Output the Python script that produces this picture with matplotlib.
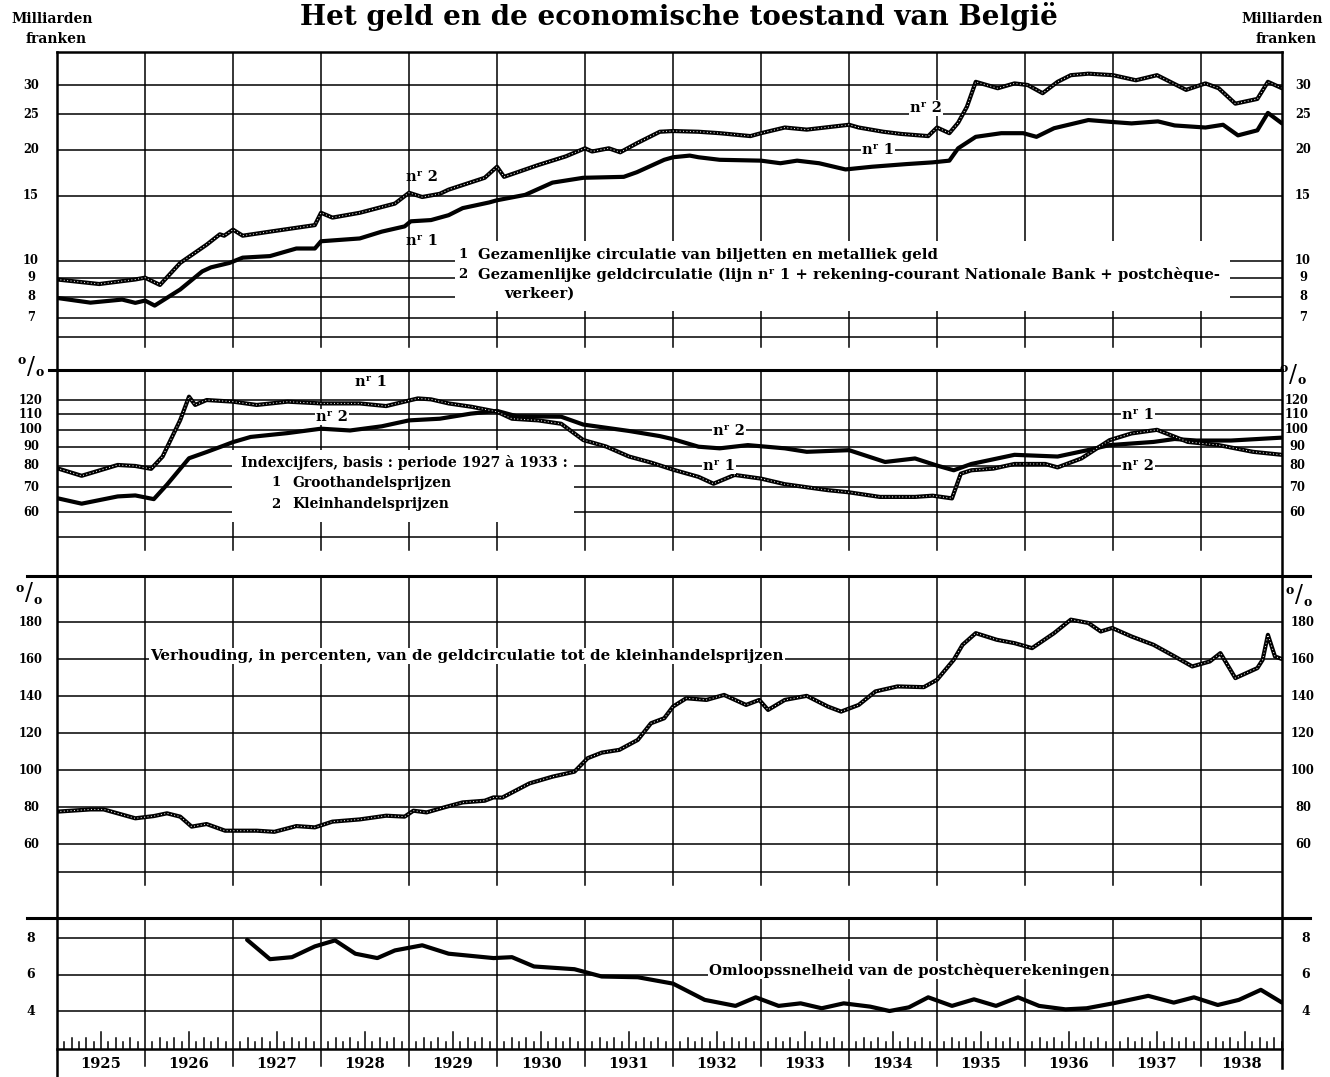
import matplotlib
matplotlib.use('Agg')
import matplotlib.pyplot as plt
from matplotlib.lines import Line2D
from matplotlib.patches import Rectangle
from matplotlib.ticker import NullLocator

# ---------------- data ----------------
money1_x = [1925.0, 1925.38, 1925.74, 1925.89, 1926.0, 1926.11, 1926.4, 1926.65, 1926.75, 1926.96,
            1927.11, 1927.42, 1927.72, 1927.93, 1928.0, 1928.44, 1928.69, 1928.95, 1929.02, 1929.25,
            1929.45, 1929.61, 1929.91, 1930.0, 1930.32, 1930.63, 1930.98, 1931.44, 1931.59, 1931.9,
            1932.0, 1932.19, 1932.29, 1932.53, 1933.0, 1933.22, 1933.41, 1933.66, 1933.96, 1934.26,
            1934.65, 1934.95, 1935.14, 1935.24, 1935.44, 1935.73, 1935.98, 1936.13, 1936.33, 1936.72,
            1937.0, 1937.21, 1937.51, 1937.7, 1938.05, 1938.25, 1938.42, 1938.64, 1938.76, 1938.92]
money1_y = [7.93, 7.7, 7.85, 7.69, 7.8, 7.56, 8.36, 9.36, 9.6, 9.87,
            10.2, 10.3, 10.8, 10.8, 11.3, 11.5, 12.0, 12.4, 12.8, 12.9,
            13.3, 13.9, 14.4, 14.6, 15.1, 16.3, 16.8, 16.9, 17.4, 18.8,
            19.1, 19.3, 19.1, 18.8, 18.7, 18.4, 18.7, 18.4, 17.7, 18.0,
            18.3, 18.5, 18.7, 20.2, 21.7, 22.2, 22.2, 21.7, 22.9, 24.1,
            23.8, 23.6, 23.9, 23.3, 23.0, 23.4, 21.9, 22.6, 25.2, 23.6]

money2_x = [1925.0, 1925.48, 1925.89, 1926.0, 1926.17, 1926.4, 1926.7, 1926.85, 1926.9, 1927.0,
            1927.11, 1927.42, 1927.93, 1928.0, 1928.13, 1928.44, 1928.84, 1929.0, 1929.15, 1929.35,
            1929.45, 1929.86, 1930.0, 1930.08, 1930.47, 1930.78, 1931.0, 1931.08, 1931.27, 1931.4,
            1931.59, 1931.85, 1932.0, 1932.29, 1932.53, 1932.88, 1933.0, 1933.27, 1933.52, 1934.0,
            1934.11, 1934.39, 1934.59, 1934.9, 1935.0, 1935.14, 1935.24, 1935.34, 1935.44, 1935.69,
            1935.88, 1936.03, 1936.2, 1936.37, 1936.52, 1936.72, 1937.0, 1937.26, 1937.5, 1937.83,
            1938.05, 1938.2, 1938.39, 1938.64, 1938.76, 1938.92]
money2_y = [8.9, 8.65, 8.9, 9.0, 8.6, 9.87, 11.06, 11.8, 11.7, 12.15,
            11.7, 12.0, 12.5, 13.5, 13.1, 13.5, 14.3, 15.3, 14.9, 15.2,
            15.6, 16.8, 18.0, 16.9, 18.2, 19.2, 20.2, 19.8, 20.2, 19.7,
            20.85, 22.4, 22.5, 22.4, 22.2, 21.8, 22.2, 23.0, 22.7, 23.4,
            23.0, 22.4, 22.1, 21.8, 23.0, 22.2, 23.7, 26.2, 30.6, 29.4,
            30.3, 30.0, 28.5, 30.6, 31.9, 32.2, 31.9, 30.9, 31.9, 29.1,
            30.3, 29.4, 26.7, 27.5, 30.6, 29.4]

whole_x = [1925.0, 1925.28, 1925.69, 1925.89, 1926.07, 1926.2, 1926.4, 1926.5, 1926.57, 1926.7,
           1927.0, 1927.27, 1927.62, 1928.0, 1928.44, 1928.74, 1929.1, 1929.25, 1929.45, 1929.71,
           1930.0, 1930.17, 1930.47, 1930.73, 1930.98, 1931.24, 1931.5, 1931.75, 1932.0, 1932.29,
           1932.46, 1932.7, 1933.0, 1933.27, 1933.76, 1934.0, 1934.35, 1934.75, 1934.95, 1935.17,
           1935.27, 1935.39, 1935.64, 1935.88, 1936.23, 1936.37, 1936.64, 1936.96, 1937.21, 1937.5,
           1937.85, 1938.2, 1938.59, 1938.92]
whole_y = [78.7, 75.1, 80.3, 79.8, 78.4, 84.6, 106.0, 122.5, 116.4, 120.0,
           118.8, 116.4, 118.8, 117.5, 117.5, 115.6, 121.2, 120.5, 117.5, 115.1,
           111.6, 106.9, 105.8, 103.6, 93.7, 90.0, 84.6, 81.5, 78.0, 74.6,
           71.5, 75.5, 73.8, 71.3, 68.7, 67.8, 65.9, 65.9, 66.4, 65.3,
           76.1, 77.7, 78.5, 80.8, 80.8, 79.1, 83.6, 93.6, 97.6, 99.8,
           92.6, 90.8, 87.1, 85.5]

retail_x = [1925.0, 1925.28, 1925.69, 1925.89, 1926.1, 1926.25, 1926.5, 1926.7, 1926.9, 1927.0,
            1927.2, 1927.62, 1928.0, 1928.33, 1928.69, 1929.0, 1929.35, 1929.7, 1930.0, 1930.22,
            1930.73, 1930.98, 1931.5, 1931.85, 1932.0, 1932.29, 1932.53, 1932.85, 1933.27, 1933.52,
            1934.0, 1934.41, 1934.75, 1935.0, 1935.19, 1935.39, 1935.88, 1936.37, 1936.71, 1936.96,
            1937.46, 1937.7, 1937.95, 1938.34, 1938.92]
retail_y = [65.4, 63.2, 66.1, 66.5, 65.0, 71.1, 83.7, 87.0, 90.6, 92.5,
            95.5, 97.8, 100.5, 99.4, 102.0, 105.8, 106.9, 110.3, 112.2, 108.6,
            108.2, 103.1, 99.1, 96.0, 94.2, 89.9, 89.0, 90.8, 89.0, 87.1,
            88.0, 81.8, 83.6, 80.0, 77.7, 80.8, 85.5, 84.6, 88.0, 90.8,
            92.6, 94.3, 93.4, 93.4, 95.1]

ratio_x = [1925.0, 1925.38, 1925.53, 1925.89, 1926.1, 1926.25, 1926.4, 1926.53, 1926.7, 1926.91,
           1927.27, 1927.47, 1927.72, 1927.93, 1928.13, 1928.44, 1928.74, 1928.95, 1929.05, 1929.2,
           1929.4, 1929.61, 1929.86, 1929.96, 1930.06, 1930.37, 1930.63, 1930.88, 1931.03, 1931.19,
           1931.39, 1931.6, 1931.75, 1931.9, 1932.0, 1932.15, 1932.38, 1932.58, 1932.83, 1932.98,
           1933.08, 1933.27, 1933.52, 1933.76, 1933.91, 1934.11, 1934.3, 1934.55, 1934.85, 1935.0,
           1935.19, 1935.29, 1935.44, 1935.68, 1935.88, 1936.08, 1936.33, 1936.52, 1936.72, 1936.86,
           1936.99, 1937.21, 1937.46, 1937.7, 1937.9, 1938.1, 1938.22, 1938.39, 1938.64, 1938.7,
           1938.76, 1938.84, 1938.92]
ratio_y = [77.5, 78.7, 78.7, 73.9, 75.1, 76.6, 74.8, 69.4, 70.8, 67.2,
           67.2, 66.6, 69.7, 69.0, 72.1, 73.3, 75.3, 74.8, 78.0, 77.1,
           79.8, 82.5, 83.4, 85.2, 85.1, 92.8, 96.4, 99.1, 106.4, 109.4,
           110.9, 116.3, 125.3, 128.0, 134.3, 138.8, 137.9, 140.6, 135.2, 137.9,
           132.5, 137.9, 140.1, 134.3, 131.6, 135.2, 142.5, 145.2, 144.8, 148.8,
           159.6, 167.7, 174.0, 170.4, 168.6, 165.9, 174.0, 181.3, 179.5, 174.9,
           176.8, 172.2, 167.7, 161.4, 156.0, 158.7, 163.2, 149.7, 155.1, 159.6,
           173.1, 161.4, 160.0]

veloc_x = [1927.16, 1927.42, 1927.67, 1927.93, 1928.16, 1928.39, 1928.64, 1928.84, 1929.15, 1929.45,
           1929.96, 1930.17, 1930.42, 1930.88, 1931.19, 1931.6, 1932.0, 1932.36, 1932.71, 1932.94,
           1933.2, 1933.45, 1933.69, 1933.94, 1934.24, 1934.46, 1934.68, 1934.9, 1935.17, 1935.42,
           1935.67, 1935.92, 1936.16, 1936.46, 1936.7, 1937.0, 1937.4, 1937.69, 1937.92, 1938.19,
           1938.43, 1938.68, 1938.92]
veloc_y = [7.9, 6.84, 6.95, 7.54, 7.87, 7.14, 6.9, 7.32, 7.6, 7.14,
           6.9, 6.95, 6.44, 6.29, 5.89, 5.85, 5.5, 4.61, 4.28, 4.75,
           4.28, 4.42, 4.15, 4.42, 4.24, 4.0, 4.2, 4.75, 4.28, 4.64,
           4.28, 4.75, 4.28, 4.09, 4.15, 4.42, 4.83, 4.46, 4.75, 4.33,
           4.61, 5.16, 4.46]

years = list(range(1925, 1939))
year_labels = [str(y) for y in years]
p1_ticks = [30, 25, 20, 15, 10, 9, 8, 7]
p2_ticks = [120, 110, 100, 90, 80, 70, 60]
p3_ticks = [180, 160, 140, 120, 100, 80, 60]
p4_ticks = [8, 6, 4]

# ---------------- layout ----------------
W, H = 1330, 1077
fig = plt.figure(figsize=(W / 100, H / 100), dpi=100)
plt.rcParams['font.family'] = ['DejaVu Serif', 'DejaVu Sans']
X0, X1 = 57, 1282
XMIN, XMAX = 1925.0, 1938.92
GRID_LW = 1.1
DATA_LW = 3.0
TFS = 8.3
NFS = 10.5   # "nr" labels

def fx(x):
    return x / W

def fy(y):
    return 1 - y / H

def panel(top, bottom, ylim, log):
    ax = fig.add_axes([fx(X0), fy(bottom), (X1 - X0) / W, (bottom - top) / H])
    if log:
        ax.set_yscale('log')
    ax.set_xlim(XMIN, XMAX)
    ax.set_ylim(*ylim)
    for s in ax.spines.values():
        s.set_visible(False)
    ax.set_xticks([])
    ax.set_yticks([])
    ax.yaxis.set_minor_locator(NullLocator())
    ax.xaxis.set_minor_locator(NullLocator())
    ax.patch.set_alpha(0)
    ax._px = (top, bottom)
    return ax

def hgrid(ax, vals):
    for v in vals:
        ax.axhline(v, color='black', lw=GRID_LW, zorder=1)

def hline_px(ax, ypx, lw=GRID_LW):
    top, bottom = ax._px
    f = (bottom - ypx) / (bottom - top)
    ax.add_line(Line2D([0, 1], [f, f], transform=ax.transAxes, color='black', lw=lw, zorder=1))

def vgrid(ax, bottom_px, top_px=None, clip=True):
    top, bottom = ax._px
    if top_px is None:
        top_px = top
    ymin = (bottom - bottom_px) / (bottom - top)
    ymax = (bottom - top_px) / (bottom - top)
    for yr in years[1:]:
        ax.axvline(yr, ymin=ymin, ymax=ymax, color='black', lw=GRID_LW, zorder=1, clip_on=clip)

def ylabels(ax, vals, labels=None, left_c=31, right_c=1303, fs=TFS):
    tr = ax.get_yaxis_transform()
    if labels is None:
        labels = [str(v) for v in vals]
    for v, lb in zip(vals, labels):
        for xc in (left_c, right_c):
            ax.text((xc - X0) / (X1 - X0), v, lb, transform=tr, ha='center', va='center',
                    fontsize=fs, fontweight='bold', clip_on=False)

def whiteout(ax, x0, y0, x1, y1):
    ax.add_patch(Rectangle((fx(x0), fy(y1)), (x1 - x0) / W, (y1 - y0) / H,
                           transform=fig.transFigure, facecolor='white', edgecolor='none',
                           zorder=1.5, clip_on=False))

def ftext(x, y, s, fs=9, ha='left', va='center', weight='bold', box=False, **kw):
    kws = dict(fontsize=fs, ha=ha, va=va, fontweight=weight, zorder=5)
    if box:
        kws['bbox'] = dict(facecolor='white', edgecolor='none', pad=1.0)
    kws.update(kw)
    return fig.text(fx(x), fy(y), s, **kws)

def series(ax, xs, ys, hollow=False):
    ax.plot(xs, ys, color='black', lw=DATA_LW, solid_joinstyle='round', solid_capstyle='round', zorder=3)
    if hollow:
        ax.plot(xs, ys, color='white', lw=0.7, linestyle=(0, (1, 2.5)), zorder=3.5)

# ---- panel 1: money (log) ----
ax1 = panel(52, 370, (5.055, 36.87), True)
hgrid(ax1, p1_ticks)
hline_px(ax1, 337)
vgrid(ax1, 347)
whiteout(ax1, 455, 241, 1230, 311)
series(ax1, money1_x, money1_y)
series(ax1, money2_x, money2_y, hollow=True)
ylabels(ax1, p1_ticks)

# ---- panel 2: price indices (log) ----
ax2 = panel(370, 576, (40.4, 144.5), True)
hgrid(ax2, p2_ticks)
hline_px(ax2, 537)
vgrid(ax2, 550)
whiteout(ax2, 232, 450, 574, 522)
series(ax2, retail_x, retail_y)
series(ax2, whole_x, whole_y, hollow=True)
ylabels(ax2, p2_ticks, right_c=1297)

# ---- panel 3: ratio (linear) ----
ax3 = panel(576, 918, (20.0, 204.9), False)
hgrid(ax3, p3_ticks)
hline_px(ax3, 872)
vgrid(ax3, 885)
series(ax3, ratio_x, ratio_y, hollow=True)
ylabels(ax3, p3_ticks)

# ---- panel 4: velocity (linear) ----
ax4 = panel(918, 1049, (1.918, 9.096), False)
hgrid(ax4, p4_ticks)
vgrid(ax4, 1066, clip=False)
series(ax4, veloc_x, veloc_y)
ylabels(ax4, p4_ticks, left_c=31, right_c=1306, fs=9)

# month ticks on baseline
tr4 = ax4.get_xaxis_transform()
hpx = 1049 - 918
for yr in years:
    for m in range(1, 12):
        t = yr + m / 12.0
        if t >= XMAX:
            continue
        L = 17 if m == 6 else (11 if m % 2 == 0 else 7)
        ax4.plot([t, t], [0, L / hpx], transform=tr4, color='black', lw=1.1, zorder=2)

# year labels
for yr, lb in zip(years, year_labels):
    mid = min(yr + 0.5, (yr + XMAX) / 2)
    ax4.text(mid, -(1064 - 1049) / hpx, lb, transform=tr4, ha='center', va='center',
             fontsize=10.5, fontweight='bold', clip_on=False)

# ---------------- frame lines ----------------
def fline(xs, ys, lw):
    fig.add_artist(Line2D([fx(x) for x in xs], [fy(y) for y in ys], color='black', lw=lw, zorder=2))

fline([X0, X1], [52, 52], 1.8)
fline([49, X1], [370, 370], 2.2)
fline([27, 1310], [576, 576], 2.2)
fline([27, 1310], [918, 918], 2.2)
fline([X0, X1], [1049, 1049], 1.8)
fline([X0, X0], [52, 1077], 1.8)
fline([X1, X1], [52, 1068], 1.8)

# ---------------- texts ----------------
ftext(679, 25, 'Het geld en de economische toestand van België', fs=20, ha='center',
      va='baseline', weight='bold')
ftext(52, 19, 'Milliarden', fs=10, ha='center')
ftext(56, 39, 'franken', fs=10, ha='center')
ftext(1282, 19, 'Milliarden', fs=10, ha='center')
ftext(1286, 39, 'franken', fs=10, ha='center')

# percent signs
def pct(x, y):
    ftext(x, y - 6, 'o', fs=9, ha='center')
    ftext(x + 9, y, '/', fs=17, ha='center', weight='normal')
    ftext(x + 18, y + 6, 'o', fs=9, ha='center')

pct(22, 367)
pct(1284, 375)
pct(20, 594)
pct(1290, 596)

# panel 1 labels
ftext(406, 177, 'nʳ 2', fs=NFS)
ftext(406, 241, 'nʳ 1', fs=NFS)
ftext(910, 108, 'nʳ 2', fs=NFS, box=True)
ftext(862, 150, 'nʳ 1', fs=NFS, box=True)
LFS = 10.7
ftext(463, 255, '1', fs=9.5, ha='center')
ftext(478, 255, 'Gezamenlijke circulatie van biljetten en metalliek geld', fs=LFS)
ftext(463, 274, '2', fs=9.5, ha='center')
ftext(478, 274, 'Gezamenlijke geldcirculatie (lijn nʳ 1 + rekening-courant Nationale Bank + postchèque-', fs=LFS)
ftext(504, 294, 'verkeer)', fs=LFS)

# panel 2 labels
ftext(355, 382, 'nʳ 1', fs=NFS)
ftext(316, 417, 'nʳ 2', fs=NFS, box=True)
ftext(713, 431, 'nʳ 2', fs=NFS, box=True)
ftext(703, 466, 'nʳ 1', fs=NFS, box=True)
ftext(1122, 415, 'nʳ 1', fs=NFS, box=True)
ftext(1122, 466, 'nʳ 2', fs=NFS, box=True)
IFS = 10.0
ftext(241, 463, 'Indexcijfers, basis : periode 1927 à 1933 :', fs=IFS)
ftext(276, 483, '1', fs=9.5, ha='center')
ftext(292, 483, 'Groothandelsprijzen', fs=IFS)
ftext(276, 504, '2', fs=9.5, ha='center')
ftext(292, 504, 'Kleinhandelsprijzen', fs=IFS)

# panel 3 label
ftext(150, 656, 'Verhouding, in percenten, van de geldcirculatie tot de kleinhandelsprijzen', fs=10.9, box=True)

# panel 4 label
ftext(709, 970, 'Omloopssnelheid van de postchèquerekeningen', fs=10.7, box=True)

fig.savefig('out.png', dpi=100, facecolor='white')
